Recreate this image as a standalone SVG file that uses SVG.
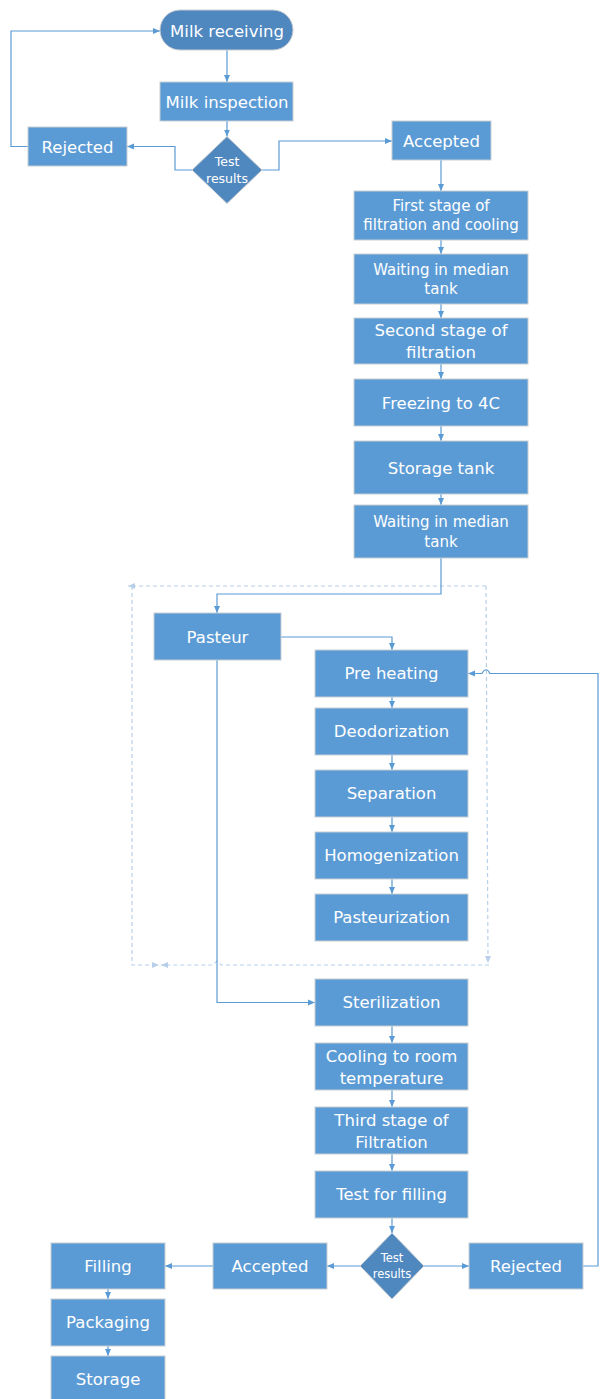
<svg xmlns="http://www.w3.org/2000/svg" width="600" height="1399" viewBox="0 0 600 1399">
<style>
.box{fill:#5B9BD5;stroke:#C9CDD2;stroke-width:1}
.dark{fill:#4F87BF;stroke:#C9CDD2;stroke-width:1}
.t{font-family:"DejaVu Sans",Verdana,sans-serif;fill:#FFFFFF;text-anchor:middle;font-size:16.5px}
.s{font-size:15px}
.m{font-size:16.5px}
.d{font-size:12.5px}
.d2{font-size:11.5px}
.c{fill:none;stroke:#5B9BD5;stroke-width:1.2}
.dash{fill:none;stroke:#B8CFEA;stroke-width:1.2;stroke-dasharray:4 3}
</style>
<defs>
<marker id="a" markerUnits="userSpaceOnUse" markerWidth="8" markerHeight="7" refX="7" refY="3.5" orient="auto">
<path d="M0,0.5 L7,3.5 L0,6.5 z" fill="#5B9BD5"/>
</marker>
<marker id="ad" markerUnits="userSpaceOnUse" markerWidth="8" markerHeight="7" refX="7" refY="3.5" orient="auto">
<path d="M0,0.5 L7,3.5 L0,6.5 z" fill="#B8CFEA"/>
</marker>
</defs>

<g id="connectors">
<path class="dash" d="M486,586 L128,586" marker-end="url(#ad)"/>
<path class="dash" d="M132,586 L132,965 L159,965" marker-end="url(#ad)"/>
<path class="dash" d="M489,965 L221,965 L217,961 L213,965 L161,965" marker-end="url(#ad)"/>
<path class="dash" d="M486,586 L488,963" marker-end="url(#ad)"/>
<path class="c" d="M227,50 L227,82" marker-end="url(#a)"/>
<path class="c" d="M227,121 L227,136.5" marker-end="url(#a)"/>
<path class="c" d="M192,170 L175,170 L175,146.5 L127,146.5" marker-end="url(#a)"/>
<path class="c" d="M28,146.5 L11,146.5 L11,31 L160,31" marker-end="url(#a)"/>
<path class="c" d="M262,170 L279,170 L279,141 L392,141" marker-end="url(#a)"/>
<path class="c" d="M441,160 L441,191" marker-end="url(#a)"/>
<path class="c" d="M441,240 L441,254" marker-end="url(#a)"/>
<path class="c" d="M441,304 L441,318" marker-end="url(#a)"/>
<path class="c" d="M441,364 L441,379" marker-end="url(#a)"/>
<path class="c" d="M441,426 L441,441" marker-end="url(#a)"/>
<path class="c" d="M441,494 L441,505" marker-end="url(#a)"/>
<path class="c" d="M441,558 L441,594 L217,594 L217,613" marker-end="url(#a)"/>
<path class="c" d="M281,637 L392,637 L392,650" marker-end="url(#a)"/>
<path class="c" d="M392,697 L392,708" marker-end="url(#a)"/>
<path class="c" d="M392,755 L392,770" marker-end="url(#a)"/>
<path class="c" d="M392,817 L392,832" marker-end="url(#a)"/>
<path class="c" d="M392,879 L392,894" marker-end="url(#a)"/>
<path class="c" d="M217,660 L217,1002.5 L315,1002.5" marker-end="url(#a)"/>
<path class="c" d="M392,1026 L392,1043" marker-end="url(#a)"/>
<path class="c" d="M392,1090 L392,1107" marker-end="url(#a)"/>
<path class="c" d="M392,1154 L392,1171" marker-end="url(#a)"/>
<path class="c" d="M392,1218 L392,1233" marker-end="url(#a)"/>
<path class="c" d="M360,1266 L327,1266" marker-end="url(#a)"/>
<path class="c" d="M424,1266 L469,1266" marker-end="url(#a)"/>
<path class="c" d="M213,1266 L165,1266" marker-end="url(#a)"/>
<path class="c" d="M108,1289 L108,1299" marker-end="url(#a)"/>
<path class="c" d="M108,1346 L108,1356" marker-end="url(#a)"/>
<path class="c" d="M583,1266 L598,1266 L598,673.5 L490,673.5 Q486,666 482,673.5 L468,673.5" marker-end="url(#a)"/>
</g>

<g id="milk-receiving"><rect class="dark" x="160" y="10" width="133" height="40" rx="20"/><text class="t m" x="227" y="36.5">Milk receiving</text></g>
<g id="milk-inspection"><rect class="box" x="160" y="82" width="133" height="39"/><text class="t m" x="227" y="107.5">Milk inspection</text></g>
<g id="test-results-1"><path class="dark" d="M227,136.5 L262,170 L227,203.5 L192,170 z"/><text class="t d" x="227" y="166">Test</text><text class="t d" x="227" y="183">results</text></g>
<g id="rejected-1"><rect class="box" x="28" y="127" width="99" height="39"/><text class="t m" x="77.5" y="152.5">Rejected</text></g>
<g id="accepted-1"><rect class="box" x="392" y="121" width="99" height="39"/><text class="t m" x="441.5" y="146.5">Accepted</text></g>
<g id="first-stage"><rect class="box" x="354" y="191" width="174" height="49"/><text class="t s" x="441" y="210.5">First stage of</text><text class="t s" x="441" y="229.5">filtration and cooling</text></g>
<g id="waiting-1"><rect class="box" x="354" y="254" width="174" height="50"/><text class="t s" x="441" y="274.5">Waiting in median</text><text class="t s" x="441" y="293.5">tank</text></g>
<g id="second-stage"><rect class="box" x="354" y="318" width="174" height="46"/><text class="t m" x="441" y="336">Second stage of</text><text class="t m" x="441" y="358">filtration</text></g>
<g id="freezing"><rect class="box" x="354" y="379" width="174" height="47"/><text class="t m" x="441" y="408.5">Freezing to 4C</text></g>
<g id="storage-tank"><rect class="box" x="354" y="441" width="174" height="53"/><text class="t m" x="441" y="473.5">Storage tank</text></g>
<g id="waiting-2"><rect class="box" x="354" y="505" width="174" height="53"/><text class="t s" x="441" y="526.5">Waiting in median</text><text class="t s" x="441" y="546.5">tank</text></g>
<g id="pasteur"><rect class="box" x="154" y="613" width="127" height="47"/><text class="t m" x="217.5" y="642.5">Pasteur</text></g>
<g id="pre-heating"><rect class="box" x="315" y="650" width="153" height="47"/><text class="t m" x="391.5" y="679">Pre heating</text></g>
<g id="deodorization"><rect class="box" x="315" y="708" width="153" height="47"/><text class="t m" x="391.5" y="737">Deodorization</text></g>
<g id="separation"><rect class="box" x="315" y="770" width="153" height="47"/><text class="t m" x="391.5" y="799">Separation</text></g>
<g id="homogenization"><rect class="box" x="315" y="832" width="153" height="47"/><text class="t m" x="391.5" y="861">Homogenization</text></g>
<g id="pasteurization"><rect class="box" x="315" y="894" width="153" height="47"/><text class="t m" x="391.5" y="923">Pasteurization</text></g>
<g id="sterilization"><rect class="box" x="315" y="979" width="153" height="47"/><text class="t m" x="391.5" y="1008">Sterilization</text></g>
<g id="cooling"><rect class="box" x="315" y="1043" width="153" height="47"/><text class="t m" x="391.5" y="1062">Cooling to room</text><text class="t m" x="391.5" y="1084">temperature</text></g>
<g id="third-stage"><rect class="box" x="315" y="1107" width="153" height="47"/><text class="t m" x="391.5" y="1126">Third stage of</text><text class="t m" x="391.5" y="1148">Filtration</text></g>
<g id="test-filling"><rect class="box" x="315" y="1171" width="153" height="47"/><text class="t m" x="391.5" y="1200">Test for filling</text></g>
<g id="test-results-2"><path class="dark" d="M392,1233 L424,1266 L392,1299 L360,1266 z"/><text class="t d2" x="392" y="1262">Test</text><text class="t d2" x="392" y="1278">results</text></g>
<g id="accepted-2"><rect class="box" x="213" y="1243" width="114" height="46"/><text class="t m" x="270" y="1272">Accepted</text></g>
<g id="rejected-2"><rect class="box" x="469" y="1243" width="114" height="46"/><text class="t m" x="526" y="1272">Rejected</text></g>
<g id="filling"><rect class="box" x="51" y="1243" width="114" height="46"/><text class="t m" x="108" y="1272">Filling</text></g>
<g id="packaging"><rect class="box" x="51" y="1299" width="114" height="47"/><text class="t m" x="108" y="1328">Packaging</text></g>
<g id="storage"><rect class="box" x="51" y="1356" width="114" height="47"/><text class="t m" x="108" y="1385">Storage</text></g>
</svg>
